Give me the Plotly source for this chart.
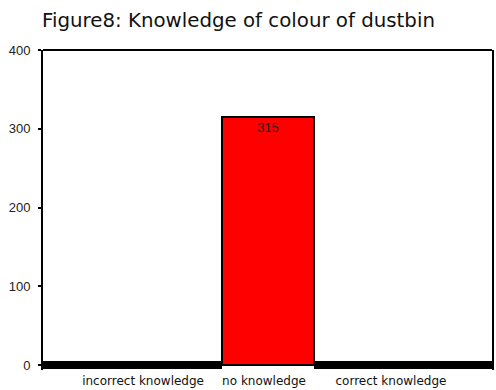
import plotly.graph_objects as go

# Survey responses: knowledge of the correct dustbin colour
categories = ["incorrect knowledge", "no knowledge", "correct knowledge"]
counts = [0, 315, 0]

# Layout geometry for the unequal-width bars (x axis in plot-width units)
bar_centers = [90, 226, 361.5]
bar_widths = [180, 92, 179]
label_positions = [100.5, 222, 349.5]
y_ticks = [0, 100, 200, 300, 400]

fig = go.Figure()
fig.add_trace(go.Bar(
    x=bar_centers,
    y=counts,
    width=bar_widths,
    marker=dict(color=["#000000", "#ff0000", "#000000"],
                line=dict(color="#000000", width=[8, 2, 8])),
    text=[str(v) if v else "" for v in counts],
    textposition="inside",
    insidetextanchor="end",
    textfont=dict(family="Liberation Sans, Arial", size=13, color="#1a1a1a"),
    constraintext="none",
    hoverinfo="skip",
))

fig.update_layout(
    width=496, height=390,
    margin=dict(l=43, r=2, t=50, b=18),
    paper_bgcolor="white", plot_bgcolor="white",
    showlegend=False,
    bargap=0,
    title=dict(
        text="Figure8: Knowledge of colour of dustbin",
        x=42 / 496, xref="container", xanchor="left",
        y=1 - 20 / 390, yref="container", yanchor="middle",
        font=dict(family="DejaVu Sans", size=19.8, color="#111111"),
    ),
    xaxis=dict(
        range=[0, 451], showgrid=False, zeroline=False, showline=False,
        tickmode="array", tickvals=label_positions, ticktext=categories,
        ticks="", tickfont=dict(family="DejaVu Sans", size=12, color="#111111"),
        ticklabelstandoff=2,
        fixedrange=True,
    ),
    yaxis=dict(
        range=[-6, 400], showgrid=False, zeroline=False,
        showline=True, linecolor="#000000", linewidth=2, mirror=True,
        tickmode="array", tickvals=y_ticks,
        ticks="outside", ticklen=3, tickwidth=2, tickcolor="#000000",
        tickfont=dict(family="Liberation Sans, Arial", size=13, color="#222222"),
        ticklabelstandoff=5,
        fixedrange=True,
    ),
    shapes=[dict(type="line", xref="paper", yref="paper", x0=0, x1=1, y0=1, y1=1,
                 line=dict(color="#000000", width=2))],
)

fig.write_html("out.html")
